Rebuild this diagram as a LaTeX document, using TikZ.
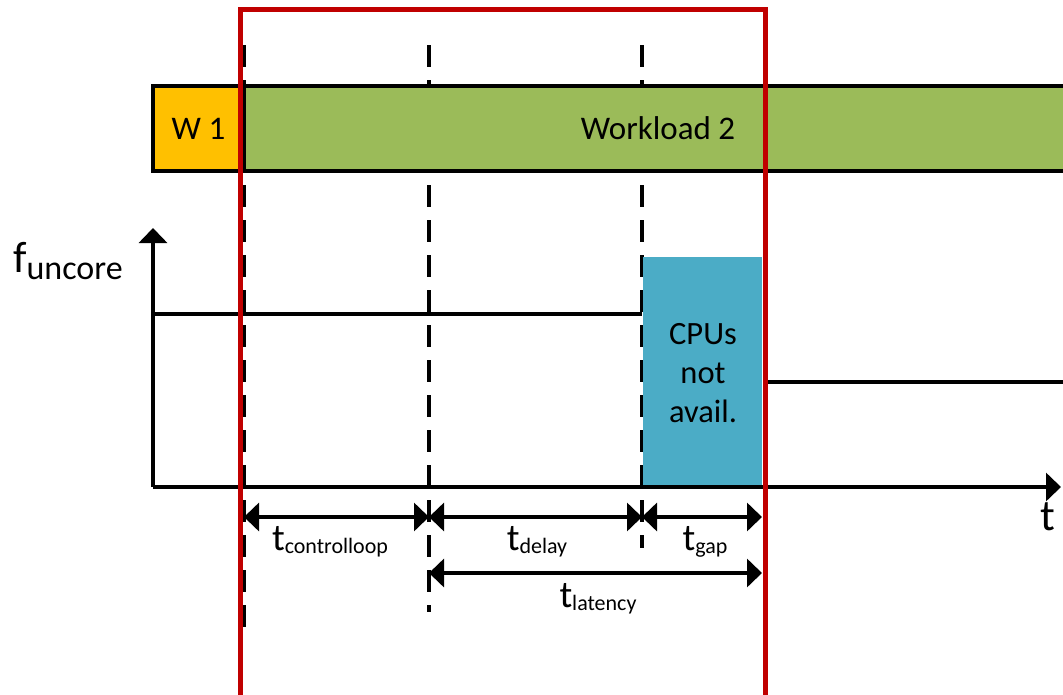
\documentclass[tikz,border=0pt]{standalone}
\usepackage{fontspec}
\setmainfont{Carlito}
\usetikzlibrary{arrows.meta}
\definecolor{wone}{HTML}{FFC000}
\definecolor{wtwo}{HTML}{9BBB59}
\definecolor{cpublue}{HTML}{4BACC6}
\definecolor{framered}{HTML}{C00000}
% symbol with a subscript, e.g. \symsub{36}{t}{22}{-4}{delay}
\newcommand{\symsub}[5]{{\fontsize{#1}{#1}\selectfont #2}\raisebox{#4pt}{\fontsize{#3}{#3}\selectfont #5}}
\begin{document}
\begin{tikzpicture}[x=1pt,y=-1pt,
  bar/.style={draw=black, line width=3.2pt, minimum height=85pt, inner sep=0pt,
              font=\fontsize{33}{38}\selectfont},
  timemark/.style={draw=black, line width=3.2pt, dash pattern=on 22pt off 13pt},
  axis/.style={draw=black, line width=3.4pt, -{Triangle[length=15pt,width=28pt]}},
  level/.style={draw=black, line width=3.2pt},
  dimarrow/.style={draw=black, line width=3.4pt,
     {Triangle[length=15pt,width=28pt]}-{Triangle[length=15pt,width=28pt]}},
  tlabel/.style={anchor=base, inner sep=0pt},
  frame/.style={draw=framered, line width=5pt}]
\useasboundingbox (0,0) rectangle (1063,694);
\clip (0,0) rectangle (1063,694);

% time marks (dashed), drawn first so the bars cover them
\coordinate (a0) at (244,45);  \coordinate (a1) at (244,640);
\coordinate (b0) at (429,45);  \coordinate (b1) at (429,612);
\coordinate (c0) at (642,45);  \coordinate (c1) at (642,548);
\draw[timemark] (a0) -- (a1);
\draw[timemark] (b0) -- (b1);
\draw[timemark] (c0) -- (c1);

% workload bars
\node[bar, fill=wone, minimum width=91pt] (w1) at (198.5,128.5) {W 1};
\node[bar, fill=wtwo, minimum width=828pt] (w2) at (658,128.5) {Workload 2};

% CPUs unavailable
\node[fill=cpublue, minimum width=119pt, minimum height=230pt, inner sep=0pt]
  (cpu) at (702.5,372) {};
\node[align=center, font=\fontsize{32.5}{39}\selectfont, inner sep=0pt]
  (cputxt) at (703,373) {CPUs\\not\\avail.};

% axes
\coordinate (origin) at (153,487);
\coordinate (ytip) at (153,228);
\coordinate (xtip) at (1061,487);
\draw[axis] (origin) -- (ytip);
\draw[axis] (origin) -- (xtip);
\node[anchor=base west, inner sep=0pt] (ylab) at (13,272)
  {\symsub{44}{f}{34}{-7}{uncore}};
\node[tlabel] (xlab) at (1048,530) {\fontsize{44}{44}\selectfont t};

% uncore frequency levels
\coordinate (l0) at (153,314); \coordinate (l1) at (642,314);
\coordinate (h0) at (765,382); \coordinate (h1) at (1063,382);
\draw[level] (l0) -- (l1);
\draw[level] (h0) -- (h1);

% intervals
\coordinate (m1) at (244,517); \coordinate (m2) at (429,517);
\coordinate (m3) at (642,517); \coordinate (m4) at (762,517);
\coordinate (n1) at (429,573); \coordinate (n2) at (762,573);
\draw[dimarrow] (m1) -- (m2);
\draw[dimarrow] (m2) -- (m3);
\draw[dimarrow] (m3) -- (m4);
\draw[dimarrow] (n1) -- (n2);
\node[tlabel] (tcl) at (330,550) {\symsub{38}{t}{22}{-3}{controlloop}};
\node[tlabel] (tdl) at (537,550) {\symsub{38}{t}{22}{-3}{delay}};
\node[tlabel] (tgp) at (705,550) {\symsub{38}{t}{22}{-3}{gap}};
\node[tlabel] (tlt) at (598,607) {\symsub{38}{t}{22}{-3}{latency}};

% observation window
\draw[frame] (240,9) rectangle (765,710);
\end{tikzpicture}
\end{document}
